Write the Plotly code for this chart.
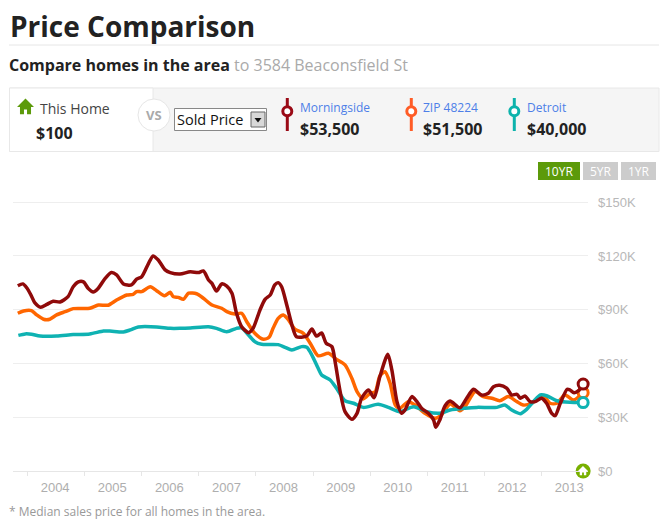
import pandas as pd
import plotly.graph_objects as go

# (year, price in $K)
morningside = [
    (2003.83, 103.4), (2003.92, 104.4), (2003.99, 102.1), (2004.06, 98.2), (2004.13, 93.8), (2004.23, 91.4),
    (2004.34, 93.0), (2004.45, 94.7), (2004.57, 94.3), (2004.71, 97.3), (2004.80, 102.8), (2004.89, 105.5),
    (2004.98, 105.5), (2005.06, 102.0), (2005.15, 99.9), (2005.24, 102.0), (2005.36, 107.5), (2005.47, 110.7),
    (2005.56, 109.4), (2005.68, 104.4), (2005.82, 103.8), (2005.91, 107.0), (2006.00, 108.4), (2006.12, 115.9),
    (2006.20, 120.0), (2006.29, 117.7), (2006.41, 112.2), (2006.50, 110.7), (2006.67, 109.9), (2006.85, 111.2),
    (2006.99, 110.7), (2007.08, 111.6), (2007.17, 106.6), (2007.23, 104.7), (2007.31, 100.4), (2007.40, 104.4),
    (2007.49, 103.2), (2007.58, 99.2), (2007.66, 88.0), (2007.75, 80.5), (2007.87, 77.2), (2007.95, 79.6),
    (2008.07, 89.8), (2008.16, 95.8), (2008.25, 98.2), (2008.33, 103.8), (2008.39, 105.1), (2008.45, 102.8),
    (2008.54, 92.6), (2008.63, 81.5), (2008.71, 74.9), (2008.89, 75.3), (2008.98, 79.2), (2009.06, 75.3),
    (2009.15, 77.0), (2009.23, 71.3), (2009.33, 69.4), (2009.39, 60.3), (2009.47, 45.2), (2009.56, 33.1),
    (2009.68, 28.9), (2009.77, 32.2), (2009.85, 40.6), (2009.97, 45.2), (2010.07, 40.9), (2010.17, 52.6),
    (2010.31, 65.1), (2010.38, 56.4), (2010.47, 38.7), (2010.55, 32.2), (2010.61, 34.0), (2010.73, 41.5),
    (2010.82, 38.7), (2010.90, 35.0), (2011.02, 32.2), (2011.11, 28.5), (2011.15, 24.4), (2011.22, 28.5),
    (2011.31, 36.3), (2011.40, 39.1), (2011.57, 35.3), (2011.69, 40.6), (2011.81, 45.6), (2011.95, 42.4),
    (2012.07, 43.4), (2012.16, 47.0), (2012.27, 47.8), (2012.39, 46.2), (2012.48, 42.4), (2012.57, 42.8),
    (2012.63, 40.6), (2012.71, 41.9), (2012.80, 38.7), (2012.89, 38.7), (2013.00, 40.6), (2013.09, 37.8),
    (2013.18, 32.2), (2013.24, 30.9), (2013.33, 37.8), (2013.45, 45.6), (2013.50, 45.2), (2013.57, 43.7),
    (2013.65, 44.8), (2013.73, 48.5),
]
zip48224 = [
    (2003.83, 88.0), (2003.93, 89.3), (2004.07, 89.5), (2004.16, 87.1), (2004.28, 84.7), (2004.39, 84.7),
    (2004.51, 87.1), (2004.66, 88.9), (2004.80, 90.6), (2005.09, 90.8), (2005.24, 92.6), (2005.41, 92.5),
    (2005.56, 95.4), (2005.74, 98.2), (2005.85, 98.6), (2005.91, 100.1), (2006.00, 100.1), (2006.15, 102.8),
    (2006.26, 100.6), (2006.40, 97.8), (2006.50, 99.7), (2006.55, 97.3), (2006.64, 96.9), (2006.73, 95.8),
    (2006.82, 99.2), (2006.96, 98.9), (2007.08, 96.4), (2007.23, 92.6), (2007.40, 90.8), (2007.49, 88.9),
    (2007.63, 87.6), (2007.75, 88.0), (2007.84, 83.3), (2007.98, 76.8), (2008.13, 73.5), (2008.23, 74.6),
    (2008.30, 79.6), (2008.39, 85.2), (2008.48, 87.1), (2008.57, 84.3), (2008.68, 79.2), (2008.83, 76.8),
    (2008.95, 71.3), (2009.09, 64.3), (2009.27, 65.7), (2009.41, 62.3), (2009.56, 59.2), (2009.68, 51.7),
    (2009.77, 44.3), (2009.88, 40.2), (2010.00, 43.4), (2010.09, 44.3), (2010.17, 53.0), (2010.26, 55.4),
    (2010.35, 48.9), (2010.44, 36.8), (2010.52, 35.0), (2010.67, 38.7), (2010.79, 36.8), (2010.96, 32.2),
    (2011.14, 29.4), (2011.25, 31.3), (2011.40, 37.4), (2011.57, 33.6), (2011.66, 35.9), (2011.75, 40.6),
    (2011.84, 44.3), (2011.98, 41.5), (2012.13, 40.6), (2012.27, 39.2), (2012.42, 41.5), (2012.57, 38.7),
    (2012.68, 36.8), (2012.83, 37.8), (2013.03, 42.0), (2013.15, 37.8), (2013.27, 37.8), (2013.41, 42.4),
    (2013.56, 39.6), (2013.73, 43.7),
]
detroit = [
    (2003.84, 75.7), (2003.96, 76.5), (2004.07, 76.3), (2004.22, 75.3), (2004.51, 75.3), (2004.80, 76.1),
    (2005.09, 76.5), (2005.33, 78.1), (2005.44, 78.1), (2005.68, 77.6), (2005.80, 78.7), (2005.94, 80.4),
    (2006.26, 80.4), (2006.50, 79.6), (2006.67, 79.6), (2006.85, 79.8), (2007.17, 80.5), (2007.31, 79.6),
    (2007.49, 77.7), (2007.66, 79.6), (2007.75, 79.8), (2007.87, 75.9), (2007.98, 72.2), (2008.10, 70.7),
    (2008.39, 70.5), (2008.51, 69.0), (2008.63, 67.5), (2008.80, 69.4), (2008.89, 69.0), (2008.98, 64.7),
    (2009.09, 57.3), (2009.15, 53.6), (2009.30, 50.8), (2009.41, 46.2), (2009.56, 39.2), (2009.71, 37.8),
    (2009.88, 35.5), (2010.14, 37.2), (2010.32, 35.5), (2010.52, 33.1), (2010.76, 35.9), (2010.99, 33.1),
    (2011.22, 32.2), (2011.40, 34.0), (2011.66, 35.0), (2011.87, 35.5), (2012.22, 35.5), (2012.36, 36.8),
    (2012.48, 34.0), (2012.63, 32.0), (2012.74, 34.4), (2012.98, 42.4), (2013.09, 42.0), (2013.27, 39.2),
    (2013.50, 38.3), (2013.73, 38.2),
]

MAROON = "#8f0a0a"
ORANGE = "#ff6600"
TEAL = "#0fb2b2"
GREEN = "#5c9a0a"

# plot area in page pixels
L, R, T, B = 13, 588, 195, 471


def to_date(yr):
    return pd.Timestamp("2004-01-01") + pd.Timedelta(days=(yr - 2004) * 365.25)


def px(x):
    return (x - L) / (R - L)


def py(y):
    return (B - y) / (B - T)


def text(x, y, s, size=12, color="#333", family="Open Sans", anchor="left"):
    if anchor == "left":
        x -= 2  # annotations sit a little right of the asked position
    fig.add_annotation(xref="paper", yref="paper", x=px(x), y=py(y), text=s, showarrow=False,
                       xanchor=anchor, yanchor="middle", align="left", borderpad=0,
                       font=dict(size=size, color=color, family=family))


def box(x0, y0, x1, y1, fill, line="rgba(0,0,0,0)", path=None):
    fig.add_shape(type="rect", xref="paper", yref="paper", x0=px(x0), x1=px(x1), y0=py(y0), y1=py(y1),
                  fillcolor=fill, line=dict(color=line, width=1), layer="above")


def poly(points, fill):
    d = "M " + " L ".join(f"{px(x):.5f},{py(y):.5f}" for x, y in points) + " Z"
    fig.add_shape(type="path", xref="paper", yref="paper", path=d, fillcolor=fill,
                  line=dict(width=0), layer="above")


def house(cx, cy, s, fill):
    poly([(cx - s, cy), (cx, cy - s), (cx + s, cy), (cx + s * 0.65, cy), (cx + s * 0.65, cy + s * 0.85),
          (cx + s * 0.18, cy + s * 0.85), (cx + s * 0.18, cy + s * 0.3), (cx - s * 0.18, cy + s * 0.3),
          (cx - s * 0.18, cy + s * 0.85), (cx - s * 0.65, cy + s * 0.85), (cx - s * 0.65, cy)], fill)


fig = go.Figure()
for name, rows, color in [("ZIP 48224", zip48224, ORANGE), ("Detroit", detroit, TEAL), ("Morningside", morningside, MAROON)]:
    df = pd.DataFrame(rows, columns=["year", "price"])
    df["date"] = df["year"].map(to_date)
    fig.add_trace(go.Scatter(x=df["date"], y=df["price"], mode="lines", name=name,
                             line=dict(color=color, width=3.5, shape="spline", smoothing=0.7)))
    fig.add_trace(go.Scatter(x=df["date"].tail(1), y=df["price"].tail(1), mode="markers", cliponaxis=False,
                             marker=dict(size=10, color="white", line=dict(color=color, width=3))))

# home marker on the axis
fig.add_trace(go.Scatter(x=[to_date(2013.73)], y=[0], mode="markers", cliponaxis=False,
                         marker=dict(size=15, color="#78b000")))

fig.update_layout(
    width=663, height=523, showlegend=False, plot_bgcolor="white", paper_bgcolor="white",
    margin=dict(l=L, r=663 - R, t=T, b=523 - B),
    xaxis=dict(type="date", range=[to_date(2003.746), to_date(2013.815)], dtick="M12", tick0="2004-01-01",
               ticklabelmode="period", tickformat="%Y", ticks="outside", ticklen=4, tickcolor="#e6e6e6",
               showgrid=False, showline=True, linecolor="#e6e6e6", zeroline=False, ticklabelshift=-1,
               tickfont=dict(family="Liberation Sans", size=13, color="#aeaeae")),
    yaxis=dict(range=[0, 154], side="right", tickvals=[0, 30, 60, 90, 120, 150],
               ticktext=["$0", "$30K", "$60K", "$90K", "$120K", "$150K"], gridcolor="#eeeeee", gridwidth=1,
               zeroline=False, ticks="", ticklabelstandoff=9,
               tickfont=dict(family="Liberation Sans", size=13, color="#b8b8b8")),
)

# page header
text(10.5, 26, "<b>Price Comparison</b>", size=28, color="#222222")
fig.add_shape(type="line", xref="paper", yref="paper", x0=px(9), x1=px(659), y0=py(45), y1=py(45),
              line=dict(color="#e6e6e6", width=1))
text(10, 65, '<b>Compare homes in the area</b> <span style="color:#aaaaaa">to 3584 Beaconsfield St</span>', size=16, color="#222222")

# comparison panel
box(9.5, 88, 659, 151.5, "#f5f5f5", "#e8e8e8")
box(9.5, 88, 153, 151.5, "white", "#e8e8e8")
house(25.5, 107, 8.5, GREEN)
text(41, 109, "This Home", size=14, color="#444444")
text(37, 133, "<b>$100</b>", size=16, color="#222222")
fig.add_shape(type="circle", xref="paper", yref="paper", x0=px(138), x1=px(170), y0=py(99), y1=py(131),
              fillcolor="white", line=dict(color="#e6e6e6", width=1), layer="above")
text(154, 115, "<b>VS</b>", size=13, color="#aaaaaa", anchor="center")

# the select box
box(174.5, 108.5, 266.5, 130.5, "white", "#888888")
text(178, 120, "Sold Price", size=14.5, color="#111111")
box(251, 112, 265, 127, "#d8d8d8", "#666666")
poly([(254.5, 118), (261.5, 118), (258, 122.5)], "#111111")

for x, tx, color, name, price in [(287.3, 300.5, "#9a0a16", "Morningside", "$53,500"),
                                  (411.3, 424, "#ff5c26", "ZIP 48224", "$51,500"),
                                  (514.3, 527.5, "#0db3ac", "Detroit", "$40,000")]:
    fig.add_shape(type="line", xref="paper", yref="paper", x0=px(x), x1=px(x), y0=py(98), y1=py(131),
                  line=dict(color=color, width=3), layer="above")
    fig.add_shape(type="circle", xref="paper", yref="paper", x0=px(x - 4.5), x1=px(x + 4.5), y0=py(106.8), y1=py(115.8),
                  fillcolor="white", line=dict(color=color, width=3), layer="above")
    text(tx, 108, name, size=12, color="#4d7fe8")
    text(tx, 129, f"<b>{price}</b>", size=16, color="#222222")

# range buttons
for x0, x1, label, fill in [(538, 580, "10YR", GREEN), (583, 618, "5YR", "#cccccc"), (621, 656, "1YR", "#cccccc")]:
    box(x0, 162, x1, 180, fill)
    text((x0 + x1) / 2, 171, label, size=12, color="white", anchor="center")

house(583, 471, 5, "white")
text(10, 511, "* Median sales price for all homes in the area.", size=12, color="#999999")

fig.write_html("out.html", post_script="document.body.style.margin='0';", config={"displayModeBar": False})
